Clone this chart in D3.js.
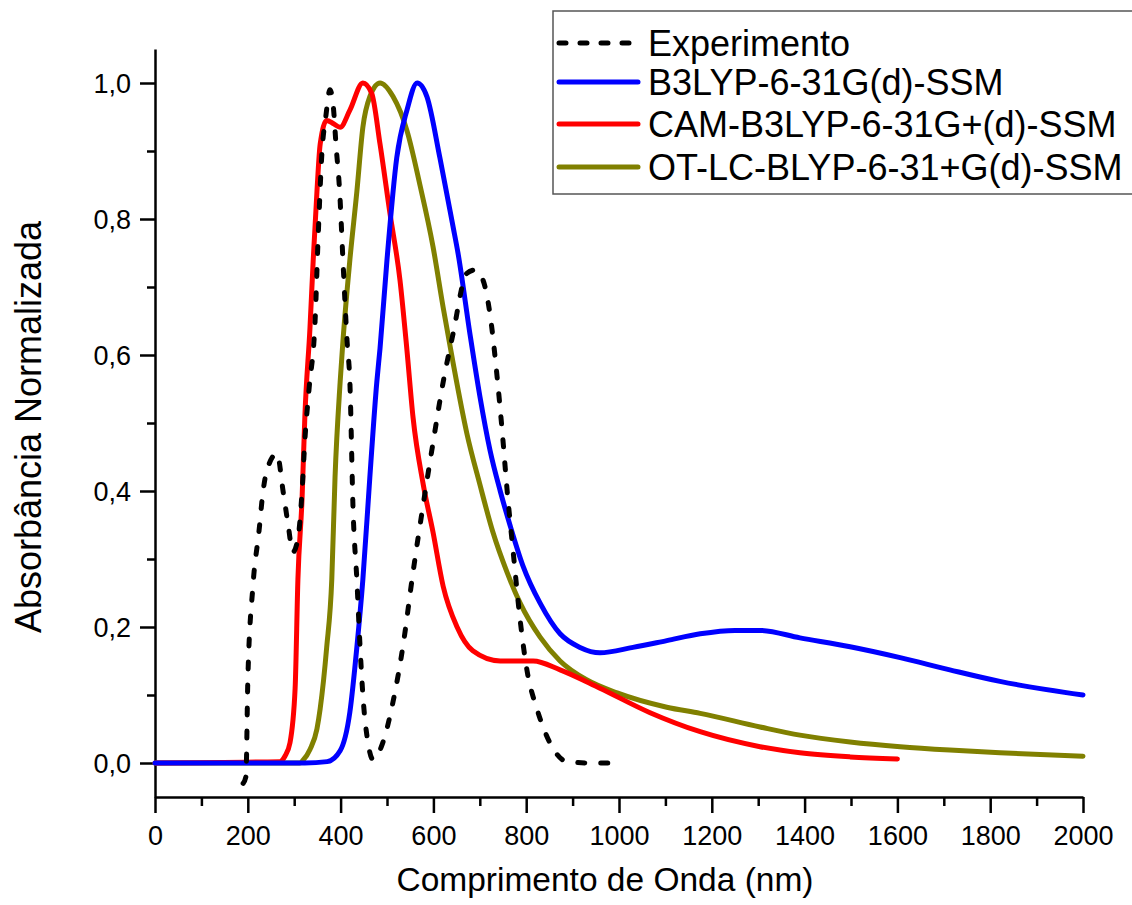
<html>
<head>
<meta charset="utf-8">
<title>Absorbância Normalizada</title>
<script src="https://cdn.jsdelivr.net/npm/d3@7"></script>
<style>
  body { margin: 0; background: #fff; }
  text { font-family: "Liberation Sans", Arial, sans-serif; fill: #000; }
</style>
</head>
<body>
<div id="chart"></div>
<script>
// data (nm, normalised absorbance)
var expX = [190,196,200,211,224,233,241,263,276,287,297,308,317,323,332,345,352,360,368,377,385,390,398,405,414,420,427,435,442,448,459,470,491,513,534,556,578,599,621,642,672,690,707,722,737,748,759,772,787,802,823,851,888,940,1000];
var expY = [-0.03,-0.02,0.12,0.26,0.34,0.40,0.43,0.455,0.40,0.35,0.31,0.33,0.40,0.475,0.55,0.65,0.78,0.90,0.95,0.99,0.96,0.91,0.84,0.74,0.62,0.56,0.37,0.27,0.17,0.10,0.03,0.005,0.03,0.09,0.17,0.28,0.38,0.47,0.56,0.63,0.72,0.725,0.71,0.66,0.57,0.49,0.40,0.31,0.21,0.135,0.08,0.03,0.002,0,0];

var b3X = [0,300,323,371,399,420,435,448,463,478,485,500,521,543,565,586,614,642,653,679,700,722,744,765,793,830,873,916,959,1030,1103,1175,1250,1304,1390,1498,1606,1713,1821,2000];
var b3Y = [0,0,0,0.002,0.018,0.075,0.17,0.27,0.42,0.56,0.61,0.74,0.89,0.96,1.0,0.98,0.89,0.79,0.75,0.63,0.54,0.46,0.40,0.35,0.29,0.235,0.19,0.17,0.162,0.17,0.18,0.19,0.195,0.195,0.184,0.171,0.155,0.137,0.12,0.10];

var camX = [0,269,280,291,302,308,317,323,334,341,349,356,370,385,399,420,448,467,485,506,528,543,556,578,599,621,651,685,744,815,873,959,1067,1175,1304,1390,1498,1600];
var camY = [0,0.002,0.01,0.03,0.11,0.27,0.39,0.51,0.64,0.74,0.84,0.91,0.945,0.94,0.935,0.96,1.0,0.985,0.91,0.81,0.71,0.607,0.509,0.41,0.34,0.26,0.20,0.165,0.15,0.15,0.137,0.11,0.074,0.046,0.024,0.015,0.009,0.006];

var otX = [0,312,319,334,349,356,370,381,388,399,405,420,435,448,463,485,513,543,571,599,621,642,672,700,728,759,787,830,873,931,996,1103,1175,1304,1390,1498,1606,1713,1821,2000];
var otY = [0,0,0.004,0.02,0.05,0.08,0.17,0.27,0.42,0.56,0.62,0.74,0.84,0.935,0.98,1.0,0.98,0.93,0.85,0.76,0.67,0.59,0.485,0.41,0.34,0.28,0.235,0.185,0.15,0.122,0.103,0.082,0.073,0.053,0.041,0.031,0.024,0.019,0.015,0.01];

var seriesNames = ["Experimento", "B3LYP-6-31G(d)-SSM", "CAM-B3LYP-6-31G+(d)-SSM", "OT-LC-BLYP-6-31+G(d)-SSM"];
var seriesColors = ["#000000", "#0000ff", "#ff0000", "#808000"];

var xMajor = d3.range(0, 2001, 200);
var xMinor = d3.range(100, 2000, 200);
var yMajor = [0, 0.2, 0.4, 0.6, 0.8, 1.0];
var yMinor = [0.1, 0.3, 0.5, 0.7, 0.9];

var width = 1132, height = 905;

var svg = d3.select("#chart")
    .append("svg")
    .attr("width", width)
    .attr("height", height);

var x = d3.scaleLinear().domain([0, 2000]).range([155, 1083]);
var y = d3.scaleLinear().domain([-0.05, 1.05]).range([797, 49]);

var comma = function(d) { return d3.format(".1f")(d).replace(".", ","); };

// x axis
var gx = svg.append("g")
    .attr("transform", "translate(0," + y(-0.05) + ")")
    .call(d3.axisBottom(x).tickValues(xMajor).tickSize(16).tickSizeOuter(0).tickPadding(9).tickFormat(d3.format("d")));
svg.append("g")
    .attr("transform", "translate(0," + y(-0.05) + ")")
    .call(d3.axisBottom(x).tickValues(xMinor).tickSize(9).tickFormat(""))
    .select(".domain").remove();

// y axis
var gy = svg.append("g")
    .attr("transform", "translate(" + x(0) + ",0)")
    .call(d3.axisLeft(y).tickValues(yMajor).tickSize(15).tickSizeOuter(0).tickPadding(9).tickFormat(comma));
svg.append("g")
    .attr("transform", "translate(" + x(0) + ",0)")
    .call(d3.axisLeft(y).tickValues(yMinor).tickSize(8).tickFormat(""))
    .select(".domain").remove();

svg.selectAll(".domain").attr("stroke", "#000").attr("stroke-width", 2.5);
svg.selectAll(".tick line").attr("stroke", "#000").attr("stroke-width", 2.5);
svg.selectAll(".tick text")
    .style("font-family", "'Liberation Sans', Arial, sans-serif")
    .style("font-size", "27px")
    .attr("fill", "#000");
gx.selectAll(".tick text").attr("dy", "0.85em");
gy.selectAll(".tick text").attr("dy", "0.35em");

// axis titles
svg.append("text")
    .attr("x", 605)
    .attr("y", 891)
    .style("text-anchor", "middle")
    .style("font-size", "33.5px")
    .text("Comprimento de Onda (nm)");

svg.append("text")
    .attr("transform", "translate(41,427) rotate(-90)")
    .style("text-anchor", "middle")
    .style("font-size", "36px")
    .text("Absorbância Normalizada");

// lines
var line = d3.line()
    .x(function(d) { return x(d[0]); })
    .y(function(d) { return y(d[1]); })
    .curve(d3.curveMonotoneX);

var allSeries = [
    d3.zip(otX, otY),
    d3.zip(camX, camY),
    d3.zip(b3X, b3Y),
    d3.zip(expX, expY)
];
var order = [3, 2, 1, 0];

allSeries.forEach(function(data, i) {
    var k = order[i];
    svg.append("path")
        .datum(data)
        .attr("fill", "none")
        .attr("stroke", seriesColors[k])
        .attr("stroke-width", 5)
        .attr("stroke-linecap", "round")
        .attr("stroke-linejoin", "round")
        .attr("stroke-dasharray", k == 0 ? "7,16" : null)
        .attr("d", line);
});

// legend
var legend = svg.append("g");
legend.append("rect")
    .attr("x", 553)
    .attr("y", 11)
    .attr("width", 600)
    .attr("height", 183)
    .attr("fill", "#fff")
    .attr("stroke", "#555")
    .attr("stroke-width", 1.5);

var rowY = [43, 82, 124, 167];
seriesNames.forEach(function(name, i) {
    legend.append("line")
        .attr("x1", 559).attr("x2", 638)
        .attr("y1", rowY[i]).attr("y2", rowY[i])
        .attr("stroke", seriesColors[i])
        .attr("stroke-width", 5)
        .attr("stroke-linecap", "round")
        .attr("stroke-dasharray", i == 0 ? "7,14" : null);
    legend.append("text")
        .attr("x", 648)
        .attr("y", rowY[i])
        .attr("dy", "0.35em")
        .style("font-size", "36px")
        .text(name);
});
</script>
</body>
</html>
